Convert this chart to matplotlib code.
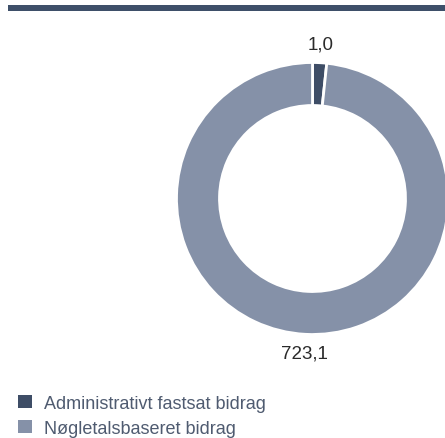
import numpy as np
import matplotlib
matplotlib.use("Agg")
import matplotlib.pyplot as plt
from matplotlib.patches import Rectangle, Patch

categories = ["Administrativt fastsat bidrag", "Nøgletalsbaseret bidrag"]
values = [1.0, 723.1]
colors = ["#3e4d66", "#8591a8"]

plt.rcParams['font.family'] = ['Liberation Sans', 'DejaVu Sans']

W, H = 445, 439
fig = plt.figure(figsize=(W / 100, H / 100), dpi=100)

# top rule
fig.add_artist(Rectangle((8 / W, 1 - 11.5 / H), (W - 8) / W, 5.5 / H,
                         transform=fig.transFigure, color="#3e4f69", lw=0))

cx, cy, R = 312.5, 199.5, 136
ax = fig.add_axes([(cx - R) / W, (H - cy - R) / H, 2 * R / W, 2 * R / H])
ax.set_xlim(-1, 1)
ax.set_ylim(-1, 1)
ax.set_aspect("equal")
ax.axis("off")

total = sum(values)
disp = np.maximum(np.array(values), total * 0.017)
labels = [f"{v:.1f}".replace(".", ",") for v in values]
wedges, texts = ax.pie(disp, colors=colors, startangle=90, counterclock=False,
                       radius=1.0, labels=labels, labeldistance=1.14,
                       wedgeprops=dict(width=43 / 136, edgecolor="white", linewidth=2.0),
                       textprops=dict(fontsize=13.5, color="#2a2a2a", ha="center", va="center"))
ax.set_xlim(-1, 1)
ax.set_ylim(-1, 1)

handles = [Patch(facecolor=c, edgecolor="none") for c in colors]
fig.legend(handles, categories, loc="upper left", bbox_to_anchor=(18 / W, 1 - 396 / H),
           frameon=False, borderpad=0, borderaxespad=0, handlelength=0.75, handleheight=0.75,
           handletextpad=0.7, labelspacing=0.45, prop=dict(size=13),
           labelcolor="#4f5b70")

fig.savefig("out.png", dpi=100)
